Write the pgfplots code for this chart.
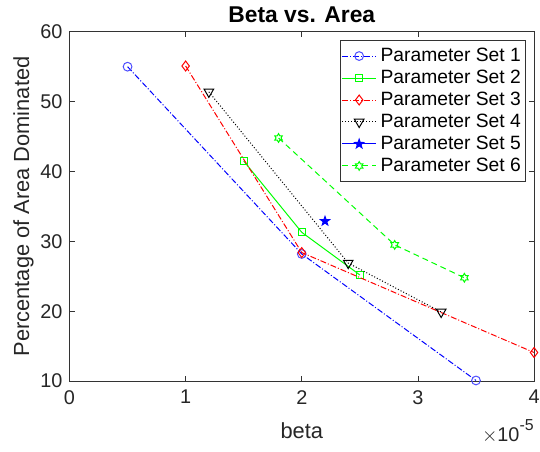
\documentclass[border=0pt]{standalone}
\usepackage{pgfplots}
\pgfplotsset{compat=1.18}
\usepackage{fontspec}
\setmainfont{Liberation Sans}
\setsansfont{Liberation Sans}

% MATLAB-like star markers
\pgfdeclareplotmark{hexagram}{%
  \pgfpathmoveto{\pgfpointpolar{90}{\pgfplotmarksize}}%
  \pgfpathlineto{\pgfpointpolar{120}{0.577\pgfplotmarksize}}%
  \pgfpathlineto{\pgfpointpolar{150}{\pgfplotmarksize}}%
  \pgfpathlineto{\pgfpointpolar{180}{0.577\pgfplotmarksize}}%
  \pgfpathlineto{\pgfpointpolar{210}{\pgfplotmarksize}}%
  \pgfpathlineto{\pgfpointpolar{240}{0.577\pgfplotmarksize}}%
  \pgfpathlineto{\pgfpointpolar{270}{\pgfplotmarksize}}%
  \pgfpathlineto{\pgfpointpolar{300}{0.577\pgfplotmarksize}}%
  \pgfpathlineto{\pgfpointpolar{330}{\pgfplotmarksize}}%
  \pgfpathlineto{\pgfpointpolar{0}{0.577\pgfplotmarksize}}%
  \pgfpathlineto{\pgfpointpolar{30}{\pgfplotmarksize}}%
  \pgfpathlineto{\pgfpointpolar{60}{0.577\pgfplotmarksize}}%
  \pgfpathclose
  \pgfusepathqstroke
}
\pgfdeclareplotmark{pentagram}{%
  \pgfpathmoveto{\pgfpointpolar{90}{\pgfplotmarksize}}%
  \pgfpathlineto{\pgfpointpolar{126}{0.4\pgfplotmarksize}}%
  \pgfpathlineto{\pgfpointpolar{162}{\pgfplotmarksize}}%
  \pgfpathlineto{\pgfpointpolar{198}{0.4\pgfplotmarksize}}%
  \pgfpathlineto{\pgfpointpolar{234}{\pgfplotmarksize}}%
  \pgfpathlineto{\pgfpointpolar{270}{0.4\pgfplotmarksize}}%
  \pgfpathlineto{\pgfpointpolar{306}{\pgfplotmarksize}}%
  \pgfpathlineto{\pgfpointpolar{342}{0.4\pgfplotmarksize}}%
  \pgfpathlineto{\pgfpointpolar{18}{\pgfplotmarksize}}%
  \pgfpathlineto{\pgfpointpolar{54}{0.4\pgfplotmarksize}}%
  \pgfpathclose
  \pgfusepathqfillstroke
}

\begin{document}
\begin{tikzpicture}
\begin{axis}[
  scale only axis,
  width=234pt, height=176pt,
  xmin=0, xmax=4, ymin=10, ymax=60,
  xtick={0,1,2,3,4}, ytick={10,20,30,40,50,60},
  tick align=inside,
  major tick length=2.7pt,
  axis line style={draw=black!80, line width=0.4pt},
  every tick/.style={black!80, line width=0.4pt},
  tick label style={font=\fontsize{10}{12}\selectfont, text=black!85},
  xticklabel style={yshift=-1pt},
  /pgf/number format/assume math mode=true,
  title={\bfseries Beta vs. Area},
  title style={font=\fontsize{11.5}{13}\selectfont, yshift=-5pt},
  xlabel={beta},
  ylabel={Percentage of Area Dominated},
  label style={font=\fontsize{11}{13}\selectfont, text=black!85},
  xlabel style={yshift=-2.5pt},
  ylabel style={yshift=-3.5pt},
  legend style={at={(0.983,0.975)}, anchor=north east,
    font=\fontsize{9.7}{11}\selectfont, draw=black!80, line width=0.4pt,
    inner xsep=0.5pt, inner ysep=1.5pt, row sep=-1.2pt},
  legend cell align=left,
  legend image post style={line width=0.5pt},
  every axis plot/.append style={line width=0.5pt, mark size=2.2pt},
  clip mode=individual,
]
\addplot[blue, mark=o, dash pattern=on 3pt off 1pt on 0.5pt off 1pt,
  mark options={solid, blue!70}]
  coordinates {(0.5,55.0) (2.0,28.2) (3.5,10.1)};
\addplot[green, mark=square, mark size=1.7pt, mark options={solid}]
  coordinates {(1.5,41.5) (2.0,31.3) (2.5,25.2)};
\addplot[red, mark=diamond, mark size=2.5pt, dash pattern=on 3pt off 1pt on 0.5pt off 1pt,
  mark options={solid}]
  coordinates {(1.0,55.1) (2.0,28.4) (4.0,14.1)};
\addplot[black, mark=triangle, mark size=2.8pt, densely dotted,
  mark options={solid, rotate=180}]
  coordinates {(1.2,51.4) (2.4,26.9) (3.2,19.9)};
\addplot[blue, mark=pentagram, mark size=2.4pt, mark options={solid, fill=blue}]
  coordinates {(2.2,32.9)};
\addplot[green, mark=hexagram, mark size=2.2pt, dash pattern=on 3pt off 2pt,
  mark options={solid}]
  coordinates {(1.8,44.8) (2.8,29.5) (3.4,24.8)};
\legend{Parameter Set 1, Parameter Set 2, Parameter Set 3,
  Parameter Set 4, Parameter Set 5, Parameter Set 6}
\coordinate (bbsw) at (rel axis cs:-0.1496,-0.2017);
\coordinate (bbne) at (rel axis cs:1.0128,1.0909);
\coordinate (mult) at (rel axis cs:1.0,-0.172);
\end{axis}
\node[anchor=base east, font=\fontsize{10}{12}\selectfont, text=black!85, inner sep=0pt]
  at (mult) {$\times$10\raisebox{0.55em}{\fontsize{8}{9}\selectfont -5}};
\pgfresetboundingbox
\path[use as bounding box] (bbsw) rectangle (bbne);
\end{tikzpicture}
\end{document}
